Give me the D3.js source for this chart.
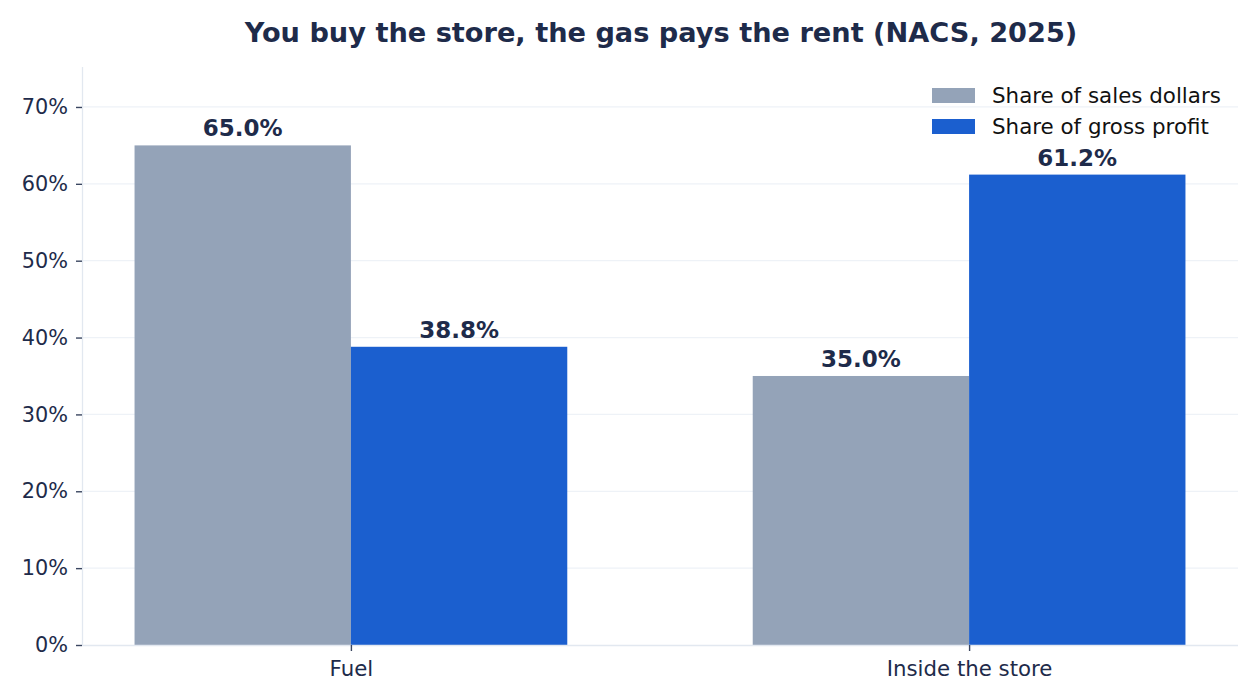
<html>
<head>
<meta charset="UTF-8">
<script src="https://cdn.jsdelivr.net/npm/d3@7"></script>
<style>
  body { margin: 0; background: #fff; font-family: "DejaVu Sans", sans-serif; }
  .grid line { stroke: #eef2f7; stroke-width: 1.3; }
  .axis text { fill: #1e2b4a; font-size: 20.8px; font-family: "DejaVu Sans"; }
  .xaxis text { font-size: 21.3px; }
</style>
</head>
<body>
<script>
  // categories and series
  let categories = ["Fuel", "Inside the store"];
  let seriesNames = ["Share of sales dollars", "Share of gross profit"];
  let salesShare = [65.0, 35.0];
  let profitShare = [38.8, 61.2];
  let yTicks = [0, 10, 20, 30, 40, 50, 60, 70];
  let colors = ["#94a3b8", "#1b5fcf"];

  var width = 1260, height = 700;
  var margin = {top: 67, right: 22, bottom: 55, left: 82};
  var w = width - margin.left - margin.right,
      h = height - margin.top - margin.bottom;

  var svg = d3.select("body").append("svg")
    .attr("width", width).attr("height", height);

  // title
  svg.append("text")
    .attr("x", 661).attr("y", 42)
    .attr("text-anchor", "middle")
    .style("font-size", "27.2px").style("font-weight", "bold")
    .style("fill", "#1e2b4a")
    .text("You buy the store, the gas pays the rent (NACS, 2025)");

  var g = svg.append("g")
    .attr("transform", "translate(" + margin.left + "," + margin.top + ")");

  var barW = 0.35;
  var x = d3.scaleLinear().domain([-0.435, 1.435]).range([0, w]);
  var y = d3.scaleLinear().domain([0, 75.2]).range([h, 0]);

  // gridlines
  g.append("g").attr("class", "grid")
    .selectAll("line").data(yTicks.slice(1)).enter().append("line")
      .attr("x1", 0).attr("x2", w)
      .attr("y1", d => y(d)).attr("y2", d => y(d));

  // bars and value labels
  let series = [salesShare, profitShare];
  series.forEach(function(vals, s) {
    let off = s === 0 ? -barW : 0;
    g.selectAll(".bar" + s).data(vals).enter().append("rect")
      .attr("x", (d, i) => x(i + off))
      .attr("width", x(barW) - x(0))
      .attr("y", d => y(d))
      .attr("height", d => h - y(d))
      .attr("fill", colors[s]);
    g.selectAll(".lab" + s).data(vals).enter().append("text")
      .attr("x", (d, i) => x(i + off + barW / 2))
      .attr("y", d => y(d) - 9)
      .attr("text-anchor", "middle")
      .style("font-size", "23px").style("font-weight", "bold")
      .style("fill", "#1e2b4a")
      .text(d => d.toFixed(1) + "%");
  });

  // y axis
  var yAxis = g.append("g").attr("class", "axis")
    .call(d3.axisLeft(y).tickValues(yTicks).tickFormat(d => d + "%").tickSize(6).tickPadding(8));
  yAxis.select(".domain").attr("stroke", "#e2e8f0").attr("stroke-width", 1.3).attr("d", "M0.5," + h + "V0");
  yAxis.selectAll(".tick line").attr("stroke", "#3a4660").attr("stroke-width", 1.4);

  // x axis
  var xAxis = g.append("g").attr("class", "axis xaxis")
    .attr("transform", "translate(0," + h + ")")
    .call(d3.axisBottom(x).tickValues([0, 1]).tickFormat(i => categories[i]).tickSize(6).tickPadding(9.5));
  xAxis.select(".domain").attr("stroke", "#e2e8f0").attr("stroke-width", 1.3).attr("d", "M0,0.5H" + w);
  xAxis.selectAll(".tick line").attr("stroke", "#3a4660").attr("stroke-width", 1.4);

  // legend
  var legend = svg.selectAll(".legend").data(seriesNames).enter().append("g")
    .attr("transform", (d, i) => "translate(932," + (88 + i * 31) + ")");
  legend.append("rect").attr("width", 43).attr("height", 15)
    .attr("fill", (d, i) => colors[i]);
  legend.append("text").attr("x", 60).attr("y", 14.5)
    .style("font-size", "21.4px").style("fill", "#111")
    .text(d => d);
</script>
</body>
</html>
